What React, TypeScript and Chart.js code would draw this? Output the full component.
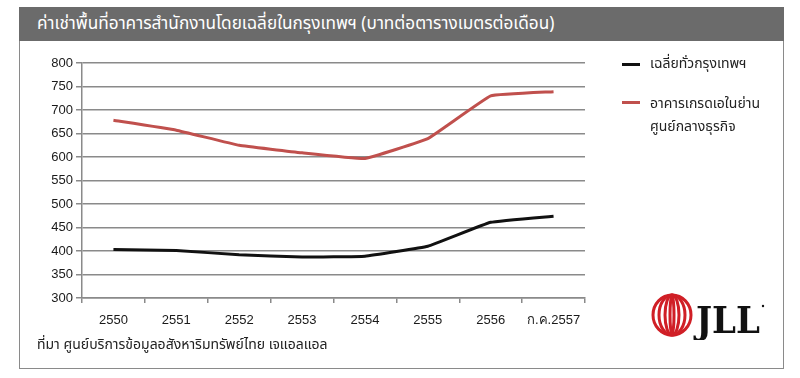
import React, { useEffect, useRef } from "react";
import { Chart, registerables } from "chart.js";

Chart.register(...registerables);

const categories = ["2550", "2551", "2552", "2553", "2554", "2555", "2556", "ก.ค.2557"];
const bangkokAvg = [403, 401, 392, 387, 389, 410, 461, 474];
const gradeACbd = [678, 657, 625, 609, 597, 639, 730, 739];
const yTicks = [300, 350, 400, 450, 500, 550, 600, 650, 700, 750, 800];

const titleText = "ค่าเช่าพื้นที่อาคารสำนักงานโดยเฉลี่ยในกรุงเทพฯ (บาทต่อตารางเมตรต่อเดือน)";
const legendAvg = "เฉลี่ยทั่วกรุงเทพฯ";
const legendCbd1 = "อาคารเกรดเอในย่าน";
const legendCbd2 = "ศูนย์กลางธุรกิจ";
const sourceText = "ที่มา ศูนย์บริการข้อมูลอสังหาริมทรัพย์ไทย เจแอลแอล";

const thaiFont = '"Noto Sans Thai", "Noto Sans Thai UI", Tahoma, "Noto Sans", sans-serif';

export default function App() {
  const ref = useRef<HTMLCanvasElement | null>(null);
  useEffect(() => {
    if (!ref.current) return;
    const chart = new Chart(ref.current, {
      type: "line",
      data: {
        labels: categories,
        datasets: [
          {
            label: legendAvg,
            data: bangkokAvg,
            borderColor: "#111111",
            backgroundColor: "#111111",
            borderWidth: 3,
            pointRadius: 0,
            tension: 0.08,
          },
          {
            label: legendCbd1 + legendCbd2,
            data: gradeACbd,
            borderColor: "#c0504d",
            backgroundColor: "#c0504d",
            borderWidth: 3,
            pointRadius: 0,
            tension: 0.08,
          },
        ],
      },
      options: {
        animation: false,
        responsive: false,
        maintainAspectRatio: false,
        layout: { padding: { left: 20, top: 63, right: 215, bottom: 40 } },
        plugins: { legend: { display: false }, tooltip: { enabled: false }, title: { display: false } },
        scales: {
          x: {
            type: "category",
            offset: true,
            afterFit: (a: any) => { a.height = 40; },
            grid: {
              offset: true,
              drawOnChartArea: false,
              drawTicks: true,
              tickLength: 5,
              color: "#8a8a8a",
              lineWidth: 1.5,
            },
            border: { display: true, color: "#8a8a8a", width: 1.5 },
            ticks: {
              color: "#1a1a1a",
              font: { family: "Liberation Sans, Arial, sans-serif", size: 13 },
              padding: 10,
              maxRotation: 0,
              autoSkip: false,
            },
          },
          y: {
            min: 300,
            max: 800,
            afterFit: (a: any) => { a.width = 62; },
            afterBuildTicks: (a: any) => { a.ticks = yTicks.map((v) => ({ value: v })); },
            grid: {
              color: "#8a8a8a",
              lineWidth: 1.5,
              drawTicks: true,
              tickLength: 6,
            },
            border: { display: true, color: "#8a8a8a", width: 1.5 },
            ticks: {
              color: "#1a1a1a",
              font: { family: "Liberation Sans, Arial, sans-serif", size: 13 },
              padding: 3,
            },
          },
        },
      },
    });
    return () => chart.destroy();
  }, []);

  const txt: React.CSSProperties = { position: "absolute", fontFamily: thaiFont, whiteSpace: "nowrap" };

  return (
    <div style={{ position: "fixed", left: 0, top: 0, width: 800, height: 378, background: "#fff", overflow: "hidden" }}>
      <div style={{ position: "absolute", left: 19, top: 7, width: 765, height: 362, border: "1.5px solid #8a8a8a", boxSizing: "border-box" }} />
      <div style={{ position: "absolute", left: 19, top: 7, width: 765, height: 34, background: "#6b6b6b" }} />
      <div style={{ ...txt, left: 37, top: 7, height: 34, lineHeight: "34px", color: "#fff", fontSize: 17.2 }}>{titleText}</div>
      <canvas ref={ref} width={800} height={378} style={{ position: "absolute", left: 0, top: 0, width: 800, height: 378 }} />
      <div style={{ position: "absolute", left: 622, top: 63, width: 18, height: 3, background: "#111" }} />
      <div style={{ ...txt, left: 650, top: 54, fontSize: 14, lineHeight: "20px", color: "#222" }}>{legendAvg}</div>
      <div style={{ position: "absolute", left: 622, top: 101, width: 18, height: 3, background: "#c0504d" }} />
      <div style={{ ...txt, left: 650, top: 92, fontSize: 14, lineHeight: "23px", color: "#222" }}>
        {legendCbd1}
        <br />
        {legendCbd2}
      </div>
      <div style={{ ...txt, left: 37, top: 336, fontSize: 14, lineHeight: "18px", color: "#222" }}>{sourceText}</div>
      <svg style={{ position: "absolute", left: 648, top: 292 }} width={120} height={48}>
        <g fill="none" stroke="#d01f26" strokeWidth={3}>
          <ellipse cx={24} cy={23} rx={19} ry={20} />
          <ellipse cx={24} cy={23} rx={13} ry={20} />
          <ellipse cx={24} cy={23} rx={7} ry={20} />
          <ellipse cx={24} cy={23} rx={2} ry={19} />
        </g>
        <text x={48} y={41} fontFamily='"DejaVu Serif", "Liberation Serif", serif' fontWeight="bold" fontSize={38} fill="#111" textLength={64} lengthAdjust="spacingAndGlyphs">JLL</text>
        <circle cx={115} cy={14} r={1.2} fill="#111" />
      </svg>
    </div>
  );
}
